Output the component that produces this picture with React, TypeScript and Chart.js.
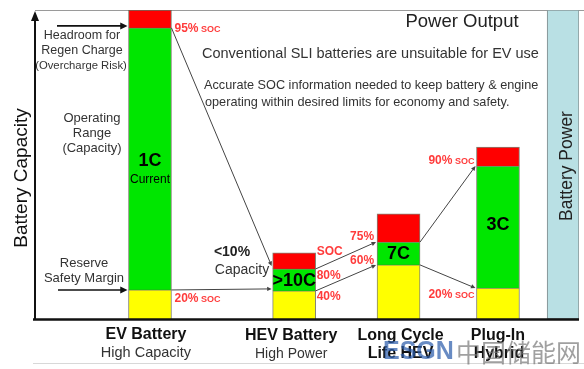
import React, { useEffect, useRef } from "react";
import { Chart, registerables } from "chart.js";

Chart.register(...registerables);

// ---- data ----
const categories = ["EV Battery", "HEV Battery", "Long Cycle", "Plug-In"];
const subLabels = ["High Capacity", "High Power", "Life HEV", "Hybrid"];
const reserveValues = [9.4, 9.1, 17.5, 10.0];
const operatingValues = [84.8, 7.1, 7.4, 39.5];
const headroomValues = [5.8, 5.2, 9.1, 6.1];
const rateLabels = ["1C", ">10C", "7C", "3C"];
const batteryPowerValue = [100];

// ---- layout (not data) ----
const slot = [0, 2.9, 5, 7];
const powerSlot = 8.31;

const FONT = "'Liberation Sans', Arial, Helvetica, sans-serif";
const RED_TXT = "#ff3b3b";
const GRAY_TXT = "#333333";

function arrowLine(ctx: CanvasRenderingContext2D, x1: number, y1: number, x2: number, y2: number, color: string, lw: number, head: number) {
  ctx.save();
  ctx.strokeStyle = color;
  ctx.fillStyle = color;
  ctx.lineWidth = lw;
  const ang = Math.atan2(y2 - y1, x2 - x1);
  const ex = x2 - Math.cos(ang) * head * 0.8;
  const ey = y2 - Math.sin(ang) * head * 0.8;
  ctx.beginPath();
  ctx.moveTo(x1, y1);
  ctx.lineTo(ex, ey);
  ctx.stroke();
  ctx.beginPath();
  ctx.moveTo(x2, y2);
  ctx.lineTo(x2 - Math.cos(ang - 0.45) * head, y2 - Math.sin(ang - 0.45) * head);
  ctx.lineTo(x2 - Math.cos(ang + 0.45) * head, y2 - Math.sin(ang + 0.45) * head);
  ctx.closePath();
  ctx.fill();
  ctx.restore();
}

function text(ctx: CanvasRenderingContext2D, s: string, x: number, y: number, font: string, color: string, align: CanvasTextAlign = "center") {
  ctx.font = font;
  ctx.fillStyle = color;
  ctx.textAlign = align;
  ctx.textBaseline = "middle";
  ctx.fillText(s, x, y);
}

function soc(ctx: CanvasRenderingContext2D, pct: string, x: number, y: number, align: "left" | "right", withSoc = true) {
  const f1 = `bold 12px ${FONT}`;
  const f2 = `bold 9px ${FONT}`;
  ctx.font = f1;
  const w1 = ctx.measureText(pct).width;
  ctx.font = f2;
  const w2 = withSoc ? ctx.measureText(" SOC").width : 0;
  const start = align === "left" ? x : x - w1 - w2;
  ctx.textBaseline = "middle";
  ctx.textAlign = "left";
  ctx.fillStyle = RED_TXT;
  ctx.font = f1;
  ctx.fillText(pct, start, y);
  if (withSoc) {
    ctx.font = f2;
    ctx.fillText(" SOC", start + w1, y + 1);
  }
}

const diagramPlugin = {
  id: "diagram",
  beforeDatasetsDraw(chart: any) {
    const ctx: CanvasRenderingContext2D = chart.ctx;
    const a = chart.chartArea;
    ctx.save();
    ctx.strokeStyle = "#9a9a9a";
    ctx.lineWidth = 1.2;
    ctx.beginPath();
    ctx.moveTo(a.left, a.top + 0.5);
    ctx.lineTo(chart.width, a.top + 0.5);
    ctx.stroke();
    ctx.strokeStyle = "#d8d8d8";
    ctx.beginPath();
    ctx.moveTo(a.left - 2, 363.5);
    ctx.lineTo(chart.width, 363.5);
    ctx.stroke();
    ctx.restore();
  },
  afterDatasetsDraw(chart: any) {
    const ctx: CanvasRenderingContext2D = chart.ctx;
    const a = chart.chartArea;
    const yel = chart.getDatasetMeta(0).data;
    const grn = chart.getDatasetMeta(1).data;
    const red = chart.getDatasetMeta(2).data;
    const L = (el: any) => el.x - el.width / 2;
    const R = (el: any) => el.x + el.width / 2;

    ctx.save();
    // axes
    ctx.strokeStyle = "#111";
    ctx.lineWidth = 2.5;
    ctx.beginPath();
    ctx.moveTo(a.left - 2, a.bottom + 0.5);
    ctx.lineTo(a.right, a.bottom + 0.5);
    ctx.stroke();
    ctx.lineWidth = 2;
    ctx.beginPath();
    ctx.moveTo(a.left, a.bottom);
    ctx.lineTo(a.left, a.top + 8);
    ctx.stroke();
    ctx.fillStyle = "#111";
    ctx.beginPath();
    ctx.moveTo(a.left, a.top + 1);
    ctx.lineTo(a.left - 4, a.top + 11);
    ctx.lineTo(a.left + 4, a.top + 11);
    ctx.closePath();
    ctx.fill();

    // left pointer arrows
    arrowLine(ctx, 57, grn[0].y - 2, L(grn[0]) - 1, grn[0].y - 2, "#111", 1.6, 8);
    arrowLine(ctx, 58, yel[0].y, L(yel[0]) - 1, yel[0].y, "#111", 1.6, 8);

    // connector lines between bars
    const lc = "#444";
    arrowLine(ctx, R(grn[0]), grn[0].y, L(grn[1]) - 1, grn[1].y - 3, lc, 1, 5);
    arrowLine(ctx, R(yel[0]), yel[0].y, L(yel[1]) - 1, yel[1].y - 2, lc, 1, 5);
    for (let i = 1; i < 3; i++) {
      arrowLine(ctx, R(grn[i]), grn[i].y, L(grn[i + 1]) - 1, grn[i + 1].y, lc, 1, 5);
      arrowLine(ctx, R(yel[i]), yel[i].y, L(yel[i + 1]) - 1, yel[i + 1].y, lc, 1, 5);
    }

    // left annotations
    text(ctx, "Headroom for", 82, 36, `12.5px ${FONT}`, GRAY_TXT);
    text(ctx, "Regen Charge", 82, 51, `12.5px ${FONT}`, GRAY_TXT);
    text(ctx, "(Overcharge Risk)", 81, 66, `11.3px ${FONT}`, GRAY_TXT);
    text(ctx, "Operating", 92, 118, `13px ${FONT}`, GRAY_TXT);
    text(ctx, "Range", 92, 133, `13px ${FONT}`, GRAY_TXT);
    text(ctx, "(Capacity)", 92, 148, `13px ${FONT}`, GRAY_TXT);
    text(ctx, "Reserve", 84, 263, `13px ${FONT}`, GRAY_TXT);
    text(ctx, "Safety Margin", 84, 278, `13px ${FONT}`, GRAY_TXT);

    // y title
    ctx.save();
    ctx.translate(27, 178);
    ctx.rotate(-Math.PI / 2);
    ctx.font = `19px ${FONT}`;
    ctx.fillStyle = "#111";
    ctx.textAlign = "center";
    ctx.textBaseline = "alphabetic";
    ctx.fillText("Battery Capacity", 0, 0);
    ctx.restore();

    // battery power title
    const pm = chart.getDatasetMeta(3).data[0];
    ctx.save();
    ctx.translate(pm.x + 9, 166);
    ctx.rotate(-Math.PI / 2);
    ctx.font = `17.5px ${FONT}`;
    ctx.fillStyle = "#222";
    ctx.textAlign = "center";
    ctx.textBaseline = "alphabetic";
    ctx.fillText("Battery Power", 0, 0);
    ctx.restore();

    // header texts
    text(ctx, "Power Output", 462, 22, `18.5px ${FONT}`, "#222");
    text(ctx, "Conventional SLI batteries are unsuitable for EV use", 202, 54, `14.5px ${FONT}`, GRAY_TXT, "left");
    text(ctx, "Accurate SOC information needed to keep battery & engine", 204, 85, `12.7px ${FONT}`, GRAY_TXT, "left");
    text(ctx, "operating within desired limits for economy and safety.", 205, 102, `12.7px ${FONT}`, GRAY_TXT, "left");

    // bar rate labels
    text(ctx, rateLabels[0], grn[0].x, 161, `bold 18px ${FONT}`, "#000");
    text(ctx, "Current", grn[0].x, 180, `12px ${FONT}`, "#000");
    text(ctx, rateLabels[1], grn[1].x, (grn[1].y + grn[1].base) / 2 + 1, `bold 18px ${FONT}`, "#000");
    text(ctx, rateLabels[2], grn[2].x, (grn[2].y + grn[2].base) / 2 + 1, `bold 18px ${FONT}`, "#000");
    text(ctx, rateLabels[3], grn[3].x, 225, `bold 18px ${FONT}`, "#000");

    // SOC labels
    soc(ctx, "95%", R(red[0]) + 3, grn[0].y + 1, "left");
    soc(ctx, "20%", R(yel[0]) + 3, yel[0].y + 9, "left");
    text(ctx, "SOC", R(red[1]) + 1, 252, `bold 12px ${FONT}`, RED_TXT, "left");
    soc(ctx, "80%", R(red[1]) + 1, 276, "left", false);
    soc(ctx, "40%", R(red[1]) + 1, 297, "left", false);
    soc(ctx, "75%", L(red[2]) - 3, 237, "right", false);
    soc(ctx, "60%", L(red[2]) - 3, 261, "right", false);
    soc(ctx, "90%", L(red[3]) - 2, 161, "right");
    soc(ctx, "20%", L(red[3]) - 2, 295, "right");

    text(ctx, "<10%", 232, 252, `bold 14px ${FONT}`, "#222");
    text(ctx, "Capacity", 242, 270, `14px ${FONT}`, "#333");

    // category labels
    const xl = chart.getDatasetMeta(0).data;
    text(ctx, categories[0], xl[0].x - 4, 335, `bold 16px ${FONT}`, "#111");
    text(ctx, subLabels[0], xl[0].x - 4, 353, `14.5px ${FONT}`, "#333");
    text(ctx, categories[1], xl[1].x - 3, 336, `bold 16px ${FONT}`, "#111");
    text(ctx, subLabels[1], xl[1].x - 3, 354, `14px ${FONT}`, "#333");
    text(ctx, categories[2], xl[2].x + 2, 336, `bold 16px ${FONT}`, "#111");
    text(ctx, subLabels[2], xl[2].x + 2, 354, `bold 16px ${FONT}`, "#111");
    text(ctx, categories[3], xl[3].x, 336, `bold 16px ${FONT}`, "#111");
    text(ctx, subLabels[3], xl[3].x + 1, 354, `bold 16px ${FONT}`, "#111");

    // watermark
    text(ctx, "ESGN", 383, 352, `bold 25px ${FONT}`, "rgba(40,90,170,0.7)", "left");
    text(ctx, "中国储能网", 456, 352, `25px 'Noto Sans CJK SC', sans-serif`, "rgba(120,120,120,0.7)", "left");
    ctx.restore();
  },
};

export default function App() {
  const ref = useRef<HTMLCanvasElement | null>(null);
  useEffect(() => {
    document.body.style.margin = "0";
    const canvas = ref.current!;
    const pts = (vals: number[]) => vals.map((v, i) => ({ x: slot[i], y: v }));
    const barBorder = "rgba(90,90,70,0.75)";
    const chart = new Chart(canvas, {
      type: "bar",
      data: {
        datasets: [
          { label: "Reserve Safety Margin", data: pts(reserveValues), backgroundColor: "#ffff00", borderColor: barBorder, borderWidth: 1, barThickness: 43 },
          { label: "Operating Range", data: pts(operatingValues), backgroundColor: "#00e600", borderColor: barBorder, borderWidth: 1, barThickness: 43 },
          { label: "Headroom for Regen Charge", data: pts(headroomValues), backgroundColor: "#ff0000", borderColor: barBorder, borderWidth: 1, barThickness: 43 },
          { label: "Battery Power", data: batteryPowerValue.map((v) => ({ x: powerSlot, y: v })), backgroundColor: "#b9e0e4", borderColor: "#8a9a9c", borderWidth: 1.2, borderSkipped: false, barThickness: 32 },
        ],
      } as any,
      options: {
        responsive: false,
        animation: false,
        layout: { padding: { left: 35, right: 5, top: 10, bottom: 50 } },
        plugins: { legend: { display: false }, tooltip: { enabled: false } },
        scales: {
          x: { type: "linear", min: -2.313, max: 8.63, offset: false, stacked: true, display: false },
          y: { min: 0, max: 100, stacked: true, display: false },
        },
      } as any,
      plugins: [diagramPlugin],
    });
    return () => chart.destroy();
  }, []);
  return <canvas ref={ref} width={584} height={369} style={{ display: "block" }} />;
}
